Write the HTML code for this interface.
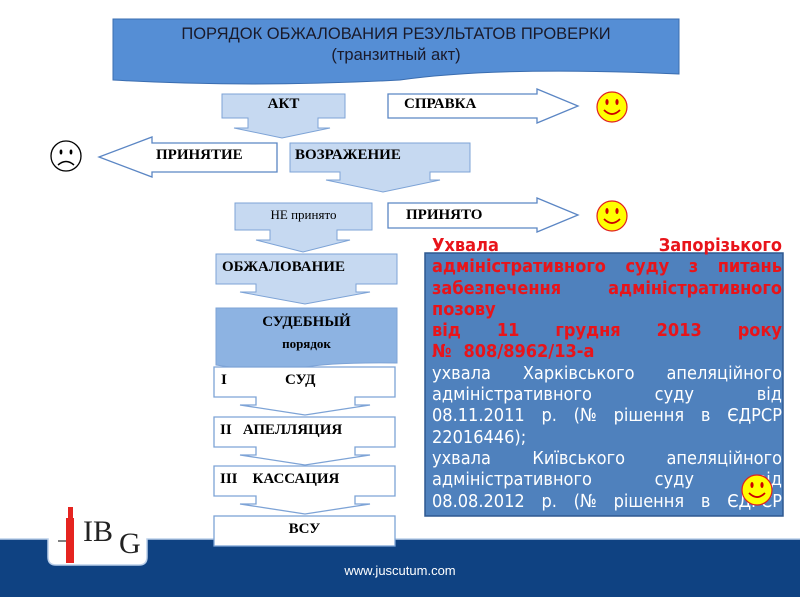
<!DOCTYPE html>
<html><head><meta charset="utf-8"><style>
body{margin:0;width:800px;height:600px;overflow:hidden;background:#fff;position:relative;font-family:"Liberation Serif",serif}
.t{position:absolute;font-weight:bold;font-size:15px;color:#000;white-space:nowrap}
#txt{position:absolute;left:432px;top:235px;width:350px;font-family:"DejaVu Sans Condensed","DejaVu Sans",sans-serif;font-size:18px;color:#fff}
#txt .l{display:flex;justify-content:space-between;height:21.3px;line-height:21.3px;white-space:nowrap}
#txt .r{color:#e8141a;font-weight:bold}
#txt .s{justify-content:flex-start;gap:12px}
</style></head><body>
<svg width="800" height="600" style="position:absolute;left:0;top:0">
<defs><g id="sm"><circle r="15" fill="#ffff00" stroke="#e02020" stroke-width="1.2"/><ellipse cx="-5" cy="-5" rx="1.6" ry="3" fill="#c00"/><ellipse cx="5" cy="-5" rx="1.6" ry="3" fill="#c00"/><path d="M-8 3 Q0 11 8 3" fill="none" stroke="#c00" stroke-width="1.8"/></g></defs>
<path d="M113 19 H679 V74 Q500 66 400 80 Q250 88 113 80 Z" fill="#558ed5" stroke="#3a6db0"/>
<path d="M222 94H345V118H318V128H330L282 138L234 128H248V118H222Z" fill="#c6d9f1" stroke="#7da3d6"/>
<path d="M388 94H537V89L578 106L537 123V118H388Z" fill="#fff" stroke="#5b86c4" stroke-width="1.3"/>
<use href="#sm" x="612" y="107"/>
<path d="M277 143V172H152V177L99 157L152 137V143Z" fill="#fff" stroke="#5b86c4" stroke-width="1.3"/>
<g transform="translate(66,156)"><circle r="15" fill="#fff" stroke="#000" stroke-width="1.3"/><ellipse cx="-5" cy="-4" rx="1.4" ry="2.5"/><ellipse cx="5" cy="-4" rx="1.4" ry="2.5"/><path d="M-8 9 Q0 2 8 9" fill="none" stroke="#000" stroke-width="1.5"/></g>
<path d="M290 143H470V172H430V180H440L383 192L326 180H340V172H290Z" fill="#c6d9f1" stroke="#7da3d6"/>
<path d="M235 203H372V230H337V240H350L303 252L256 240H270V230H235Z" fill="#c6d9f1" stroke="#7da3d6"/>
<path d="M388 203H537V198L578 215L537 232V228H388Z" fill="#fff" stroke="#5b86c4" stroke-width="1.3"/>
<use href="#sm" x="612" y="216"/>
<path d="M216 254H397V284H356V292H370L305 304L240 292H256V284H216Z" fill="#c6d9f1" stroke="#7da3d6"/>
<path d="M216 308H397V363Q330 362 300 368Q260 372 216 365Z" fill="#8db3e2" stroke="#7da3d6"/>
<path d="M214 367H395V397H355V405H370L305 415L240 405H256V397H214Z" fill="#fff" stroke="#7da3d6" stroke-width="1.3"/>
<path d="M214 417H395V447H355V455H370L305 465L240 455H256V447H214Z" fill="#fff" stroke="#7da3d6" stroke-width="1.3"/>
<path d="M214 466H395V496H355V504H370L305 514L240 504H256V496H214Z" fill="#fff" stroke="#7da3d6" stroke-width="1.3"/>
<path d="M0 539H48V557Q48 565 56 565H139Q147 565 147 557V539H800V600H0Z" fill="#0f4282"/>
<path d="M0 539H48V557Q48 565 56 565H139Q147 565 147 557V539H800" fill="none" stroke="#bcd0ea" stroke-width="1.5"/>
<rect x="0" y="597" width="800" height="3" fill="#fff"/>
<rect x="214" y="516" width="181" height="30" fill="#fff" stroke="#7da3d6" stroke-width="1.3"/>
<rect x="68" y="507" width="5" height="12" fill="#e52420"/><rect x="66" y="518" width="8" height="45" fill="#e52420"/>
<line x1="58" y1="541" x2="66" y2="541" stroke="#000"/>
<text x="83" y="541" font-family="Liberation Serif" font-size="30" fill="#222">IB</text>
<text x="119" y="553" font-family="Liberation Serif" font-size="30" fill="#222">G</text>
<rect x="425" y="253" width="358" height="263" fill="#4f81bd" stroke="#2f5890" stroke-width="1.5"/>
<text x="400" y="575" text-anchor="middle" font-family="Liberation Sans" font-size="13" fill="#fff">www.juscutum.com</text>
</svg>
<div class="t" style="left:113px;top:24px;width:566px;text-align:center;font-family:'Liberation Sans',sans-serif;font-weight:normal;font-size:16.5px;line-height:21px;color:#1a1a2a">ПОРЯДОК ОБЖАЛОВАНИЯ РЕЗУЛЬТАТОВ ПРОВЕРКИ<br>(транзитный акт)</div>
<div class="t" style="left:222px;top:96px;width:123px;text-align:center">АКТ</div>
<div class="t" style="left:404px;top:96px">СПРАВКА</div>
<div class="t" style="left:156px;top:147px">ПРИНЯТИЕ</div>
<div class="t" style="left:295px;top:147px">ВОЗРАЖЕНИЕ</div>
<div class="t" style="left:235px;top:207px;width:137px;text-align:center;font-weight:normal;font-size:13px">НЕ принято</div>
<div class="t" style="left:406px;top:207px">ПРИНЯТО</div>
<div class="t" style="left:222px;top:259px">ОБЖАЛОВАНИЕ</div>
<div class="t" style="left:216px;top:312px;width:181px;text-align:center;line-height:21px">СУДЕБНЫЙ<br><span style="font-size:13px">порядок</span></div>
<div class="t" style="left:221px;top:372px">I</div><div class="t" style="left:285px;top:372px">СУД</div>
<div class="t" style="left:220px;top:422px">II&nbsp;&nbsp; АПЕЛЛЯЦИЯ</div>
<div class="t" style="left:220px;top:471px">III&nbsp;&nbsp;&nbsp; КАССАЦИЯ</div>
<div class="t" style="left:214px;top:521px;width:181px;text-align:center">ВСУ</div>
<div id="txt">
<div class="l r"><span>Ухвала</span><span>Запорізького</span></div>
<div class="l r"><span>адміністративного</span><span>суду</span><span>з</span><span>питань</span></div>
<div class="l r"><span>забезпечення</span><span>адміністративного</span></div>
<div class="l r s"><span>позову</span></div>
<div class="l r"><span>від</span><span>11</span><span>грудня</span><span>2013</span><span>року</span></div>
<div class="l r s"><span>№</span><span>808/8962/13-а</span></div>
<div class="l"><span>ухвала</span><span>Харківського</span><span>апеляційного</span></div>
<div class="l"><span>адміністративного</span><span>суду</span><span>від</span></div>
<div class="l"><span>08.11.2011</span><span>р.</span><span>(№</span><span>рішення</span><span>в</span><span>ЄДРСР</span></div>
<div class="l s"><span>22016446);</span></div>
<div class="l"><span>ухвала</span><span>Київського</span><span>апеляційного</span></div>
<div class="l"><span>адміністративного</span><span>суду</span><span>від</span></div>
<div class="l"><span>08.08.2012</span><span>р.</span><span>(№</span><span>рішення</span><span>в</span><span>ЄДРСР</span></div>
</div>
<svg width="40" height="40" style="position:absolute;left:737px;top:470px"><g transform="translate(20,20)"><circle r="15" fill="#ffff00" stroke="#e02020" stroke-width="1.2"/><ellipse cx="-5" cy="-5" rx="1.6" ry="3" fill="#c00"/><ellipse cx="5" cy="-5" rx="1.6" ry="3" fill="#c00"/><path d="M-8 3 Q0 11 8 3" fill="none" stroke="#c00" stroke-width="1.8"/></g></svg>
</body></html>
